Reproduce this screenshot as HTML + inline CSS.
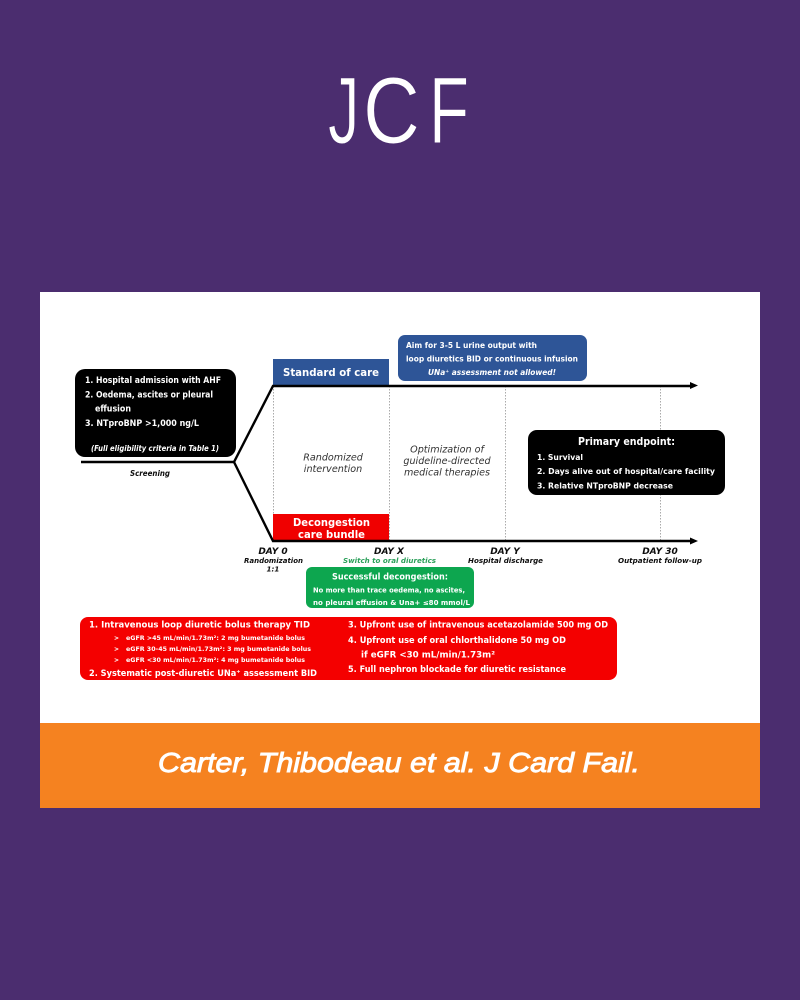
<!DOCTYPE html>
<html><head><meta charset="utf-8"><style>
html,body{margin:0;padding:0;background:#4b2d6f}
svg{display:block}
text{font-family:"DejaVu Sans","Liberation Sans",sans-serif}
.w{fill:#fff;font-weight:bold}
.k{fill:#111;font-weight:bold;font-style:italic}
.n{fill:#333;font-style:italic;font-size:9.6px;text-anchor:middle}
.j{font-family:"Liberation Sans",sans-serif;font-size:95px;fill:#fff;stroke:#4b2d6f;stroke-width:1}
</style></head><body>
<svg width="800" height="1000" viewBox="0 0 800 1000" xmlns="http://www.w3.org/2000/svg">
<rect width="800" height="1000" fill="#4b2d6f"/>
<text class="j" transform="translate(328 143) scale(.66 1)">J</text>
<text class="j" transform="translate(363 143) scale(.83 1)">C</text>
<text class="j" transform="translate(429 143) scale(.69 1)">F</text>
<rect x="40" y="292" width="720" height="431" fill="#fff"/>
<rect x="40" y="723" width="720" height="85" fill="#f58220"/>
<text x="158" y="772" font-size="28" font-style="italic" fill="#fff" stroke="#fff" stroke-width=".9" textLength="482" lengthAdjust="spacingAndGlyphs" style="font-family:'Liberation Sans',sans-serif">Carter, Thibodeau et al. J Card Fail.</text>

<g filter="url(#b)">
<defs><filter id="b" x="0" y="0" width="100%" height="100%"><feGaussianBlur stdDeviation="0.35"/></filter></defs>
<g stroke="#aaa" stroke-width="1" stroke-dasharray="1.5 1.5">
<line x1="273.5" y1="386" x2="273.5" y2="541"/>
<line x1="389.5" y1="386" x2="389.5" y2="541"/>
<line x1="505.5" y1="386" x2="505.5" y2="541"/>
<line x1="660.5" y1="386" x2="660.5" y2="541"/>
</g>
<rect x="273" y="359" width="116" height="26" fill="#2f5597"/>
<rect x="273" y="514" width="116" height="27" fill="#f00000"/>
<g stroke="#000" stroke-width="2.4" fill="none">
<path d="M81 462H234L273 386H692"/>
<path d="M234 462L273 541H692"/>
</g>
<path d="M690 382L698 385.5L690 389Z M690 537.5L698 541L690 544.5Z" fill="#000"/>

<rect x="75" y="369" width="161" height="88" rx="10" fill="#000"/>
<text class="w" x="85" y="383" font-size="8.5" textLength="136" lengthAdjust="spacingAndGlyphs">1. Hospital admission with AHF</text>
<text class="w" x="85" y="397.5" font-size="8.5" textLength="128" lengthAdjust="spacingAndGlyphs">2. Oedema, ascites or pleural</text>
<text class="w" x="95" y="411.5" font-size="8.5" textLength="36" lengthAdjust="spacingAndGlyphs">effusion</text>
<text class="w" x="85" y="426" font-size="8.5" textLength="114" lengthAdjust="spacingAndGlyphs">3. NTproBNP &gt;1,000 ng/L</text>
<text class="w" x="91" y="451" font-size="7.5" font-style="italic" textLength="128" lengthAdjust="spacingAndGlyphs">(Full eligibility criteria in Table 1)</text>
<text class="k" x="130" y="476" font-size="7.5" textLength="40" lengthAdjust="spacingAndGlyphs">Screening</text>

<text class="w" x="283" y="376" font-size="11" textLength="96" lengthAdjust="spacingAndGlyphs">Standard of care</text>
<text class="w" x="293" y="526" font-size="10.5" textLength="77" lengthAdjust="spacingAndGlyphs">Decongestion</text>
<text class="w" x="298" y="538" font-size="10.5" textLength="67" lengthAdjust="spacingAndGlyphs">care bundle</text>
<text class="n" x="333" y="460.5">Randomized</text>
<text class="n" x="333" y="472">intervention</text>
<text class="n" x="447" y="452.5">Optimization of</text>
<text class="n" x="447" y="464">guideline-directed</text>
<text class="n" x="447" y="475.5">medical therapies</text>

<rect x="398" y="335" width="189" height="46" rx="7" fill="#2f5597"/>
<text class="w" x="406" y="348" font-size="8" textLength="131" lengthAdjust="spacingAndGlyphs">Aim for 3-5 L urine output with</text>
<text class="w" x="406" y="361.5" font-size="8" textLength="172" lengthAdjust="spacingAndGlyphs">loop diuretics BID or continuous infusion</text>
<text class="w" x="428" y="375" font-size="8" font-style="italic" textLength="128" lengthAdjust="spacingAndGlyphs">UNa⁺ assessment not allowed!</text>

<rect x="528" y="430" width="197" height="65" rx="9" fill="#000"/>
<text class="w" x="578" y="445" font-size="10.5" textLength="97" lengthAdjust="spacingAndGlyphs">Primary endpoint:</text>
<text class="w" x="537" y="460" font-size="8" textLength="46" lengthAdjust="spacingAndGlyphs">1. Survival</text>
<text class="w" x="537" y="474" font-size="8" textLength="178" lengthAdjust="spacingAndGlyphs">2. Days alive out of hospital/care facility</text>
<text class="w" x="537" y="488.5" font-size="8" textLength="136" lengthAdjust="spacingAndGlyphs">3. Relative NTproBNP decrease</text>

<text class="k" x="273" y="554" font-size="9" text-anchor="middle">DAY 0</text>
<text class="k" x="389" y="554" font-size="9" text-anchor="middle">DAY X</text>
<text class="k" x="505" y="554" font-size="9" text-anchor="middle">DAY Y</text>
<text class="k" x="660" y="554" font-size="9" text-anchor="middle">DAY 30</text>
<text class="k" x="244" y="563" font-size="7.2" textLength="59" lengthAdjust="spacingAndGlyphs">Randomization</text>
<text class="k" x="273" y="571.5" font-size="7.2" text-anchor="middle">1:1</text>
<text class="k" x="343" y="563" font-size="7.2" textLength="93" lengthAdjust="spacingAndGlyphs" style="fill:#2ba05a">Switch to oral diuretics</text>
<text class="k" x="468" y="563" font-size="7.2" textLength="75" lengthAdjust="spacingAndGlyphs">Hospital discharge</text>
<text class="k" x="618" y="563" font-size="7.2" textLength="84" lengthAdjust="spacingAndGlyphs">Outpatient follow-up</text>

<rect x="306" y="567" width="168" height="41" rx="6" fill="#0aa64f"/>
<text class="w" x="332" y="579.5" font-size="8.5" textLength="116" lengthAdjust="spacingAndGlyphs">Successful decongestion:</text>
<text class="w" x="313" y="592.5" font-size="6.6" textLength="152" lengthAdjust="spacingAndGlyphs">No more than trace oedema, no ascites,</text>
<text class="w" x="313" y="605" font-size="6.6" textLength="157" lengthAdjust="spacingAndGlyphs">no pleural effusion &amp; Una+ ≤80 mmol/L</text>

<rect x="80" y="617" width="537" height="63" rx="8" fill="#f40000"/>
<text class="w" x="89" y="627.5" font-size="8.5" textLength="221" lengthAdjust="spacingAndGlyphs">1. Intravenous loop diuretic bolus therapy TID</text>
<text class="w" x="114" y="640" font-size="6">&gt;</text>
<text class="w" x="114" y="651" font-size="6">&gt;</text>
<text class="w" x="114" y="662" font-size="6">&gt;</text>
<text class="w" x="126" y="640" font-size="6" textLength="179" lengthAdjust="spacingAndGlyphs">eGFR &gt;45 mL/min/1.73m²: 2 mg bumetanide bolus</text>
<text class="w" x="126" y="651" font-size="6" textLength="185" lengthAdjust="spacingAndGlyphs">eGFR 30-45 mL/min/1.73m²: 3 mg bumetanide bolus</text>
<text class="w" x="126" y="662" font-size="6" textLength="179" lengthAdjust="spacingAndGlyphs">eGFR &lt;30 mL/min/1.73m²: 4 mg bumetanide bolus</text>
<text class="w" x="89" y="676" font-size="8.5" textLength="228" lengthAdjust="spacingAndGlyphs">2. Systematic post-diuretic UNa⁺ assessment BID</text>
<text class="w" x="348" y="627.5" font-size="8.5" textLength="260" lengthAdjust="spacingAndGlyphs">3. Upfront use of intravenous acetazolamide 500 mg OD</text>
<text class="w" x="348" y="643" font-size="8.5" textLength="218" lengthAdjust="spacingAndGlyphs">4. Upfront use of oral chlorthalidone 50 mg OD</text>
<text class="w" x="361" y="657.5" font-size="8.5" textLength="134" lengthAdjust="spacingAndGlyphs">if eGFR &lt;30 mL/min/1.73m²</text>
<text class="w" x="348" y="672" font-size="8.5" textLength="218" lengthAdjust="spacingAndGlyphs">5. Full nephron blockade for diuretic resistance</text>
</g>
</svg>
</body></html>
